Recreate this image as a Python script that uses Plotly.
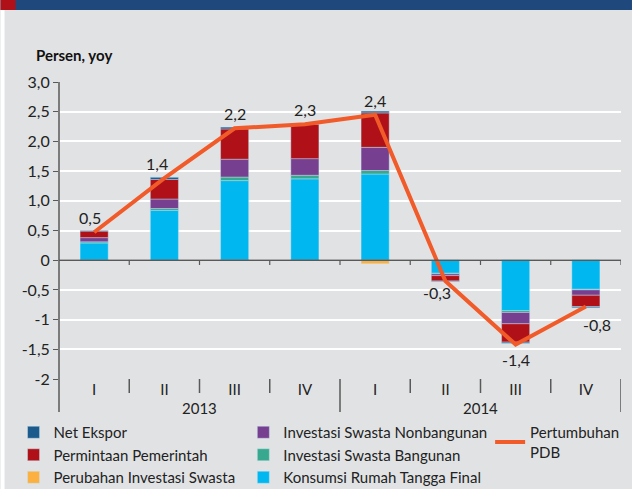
import plotly.graph_objects as go

quarters = ["I", "II", "III", "IV", "I", "II", "III", "IV"]
years = ["2013", "2014"]
konsumsi = [0.29, 0.84, 1.34, 1.37, 1.45, -0.22, -0.85, -0.49]
bangunan = [0.02, 0.03, 0.06, 0.06, 0.06, -0.01, -0.03, -0.01]
nonbangunan = [0.07, 0.16, 0.30, 0.28, 0.39, -0.03, -0.19, -0.09]
pemerintah = [0.11, 0.33, 0.51, 0.58, 0.58, -0.09, -0.31, -0.19]
net_ekspor = [0.01, 0.04, 0.03, 0.01, 0.03, -0.01, -0.02, -0.02]
perubahan = [-0.005, 0.0, -0.01, 0.0, -0.06, 0.0, 0.0, 0.0]
pdb = [0.47, 1.38, 2.22, 2.29, 2.45, -0.35, -1.42, -0.78]
pdb_labels = ["0,5", "1,4", "2,2", "2,3", "2,4", "-0,3", "-1,4", "-0,8"]
y_tickvals = [3, 2.5, 2, 1.5, 1, 0.5, 0, -0.5, -1, -1.5, -2]
y_ticktext = ["3,0", "2,5", "2,0", "1,5", "1,0", "0,5", "0", "-0,5", "-1", "-1,5", "-2"]

FONT = "Lato"
W, H = 632, 489
ML, MR, MT, MB = 58.5, 11, 82, 110
PW, PH = W - ML - MR, H - MT - MB

def px_x(px):
    return (px - ML) / PW

def px_y(py):
    return (H - MB - py) / PH

x = list(range(len(quarters)))

fig = go.Figure()

bar_specs = [
    ("Konsumsi Rumah Tangga Final", konsumsi, "#00B8EF", "legend2", "g6"),
    ("Investasi Swasta Bangunan", bangunan, "#38A88E", "legend2", "g5"),
    ("Investasi Swasta Nonbangunan", nonbangunan, "#763F8F", "legend2", "g4"),
    ("Permintaan Pemerintah", pemerintah, "#B01118", "legend", "g2"),
    ("Net Ekspor", net_ekspor, "#1C5A8C", "legend", "g1"),
    ("Perubahan Investasi Swasta", perubahan, "#FBB040", "legend", "g3"),
]
rank = {"Net Ekspor": 1, "Permintaan Pemerintah": 2, "Perubahan Investasi Swasta": 3,
        "Investasi Swasta Nonbangunan": 4, "Investasi Swasta Bangunan": 5,
        "Konsumsi Rumah Tangga Final": 6}
for name, vals, col, leg, grp in bar_specs:
    fig.add_trace(go.Bar(
        x=x, y=vals, name=name,
        marker=dict(color=col, line=dict(width=0.6, color="rgba(200,230,245,0.7)")),
        width=0.4, legend=leg, legendgroup=grp, legendrank=rank[name],
    ))

fig.add_trace(go.Scatter(
    x=x, y=pdb, name="Pertumbuhan<br>PDB", mode="lines",
    line=dict(color="#F15A29", width=4),
    legend="legend3", cliponaxis=False,
))

shapes = []
shapes.append(dict(type="rect", xref="paper", yref="paper", x0=px_x(0), x1=px_x(W), y0=px_y(10), y1=px_y(0),
                   fillcolor="#1F497D", line=dict(width=0), layer="above"))
shapes.append(dict(type="rect", xref="paper", yref="paper", x0=px_x(0), x1=px_x(15), y0=px_y(10), y1=px_y(0),
                   fillcolor="#B01118", line=dict(width=0), layer="above"))
shapes.append(dict(type="rect", xref="paper", yref="paper", x0=px_x(0), x1=px_x(4), y0=px_y(H), y1=px_y(10),
                   fillcolor="#FFFFFF", line=dict(width=0), layer="above"))
shapes.append(dict(type="line", xref="paper", yref="paper", x0=0, x1=0, y0=px_y(412), y1=1,
                   line=dict(color="#595959", width=1.5)))
shapes.append(dict(type="line", xref="paper", yref="y", x0=0, x1=1, y0=0, y1=0,
                   line=dict(color="#595959", width=1.5)))
for b in [0.5, 1.5, 2.5, 3.5, 4.5, 5.5, 6.5, 7.5]:
    shapes.append(dict(type="line", xref="x", yref="paper", x0=b, x1=b, y0=px_y(265), y1=px_y(260),
                       line=dict(color="#595959", width=1.2)))
for b in [0.5, 1.5, 2.5, 4.5, 5.5, 6.5]:
    shapes.append(dict(type="line", xref="x", yref="paper", x0=b, x1=b, y0=px_y(393), y1=0,
                       line=dict(color="#595959", width=1.5)))
for b in [3.5, 7.5]:
    shapes.append(dict(type="line", xref="x", yref="paper", x0=b, x1=b, y0=px_y(412), y1=0,
                       line=dict(color="#595959", width=1.5)))

annotations = [
    dict(text="<b>Persen, yoy</b>", xref="paper", yref="paper", x=px_x(33), y=px_y(55),
         xanchor="left", yanchor="middle", showarrow=False, font=dict(family=FONT, size=15, color="#111111")),
]
for i, yr in enumerate(years):
    annotations.append(dict(text=yr, xref="x", yref="paper", x=1.5 + 4 * i, y=px_y(408),
                            xanchor="center", yanchor="middle", showarrow=False,
                            font=dict(family=FONT, size=15, color="#222222")))
label_shift = [(-4, 15), (-7, 15), (0, 15), (0, 15), (0, 14), (-8, -12), (0, -15), (11, -18)]
for i, (lab, val) in enumerate(zip(pdb_labels, pdb)):
    dx, dy = label_shift[i]
    annotations.append(dict(text=lab, x=x[i], y=val, xref="x", yref="y", showarrow=False,
                            xshift=dx, yshift=dy, xanchor="center", yanchor="middle",
                            font=dict(family=FONT, size=16, color="#222222")))

legend_common = dict(bgcolor="rgba(0,0,0,0)", font=dict(family=FONT, size=15, color="#222222"),
                     orientation="v", xanchor="left", yanchor="top", tracegroupgap=0,
                     itemclick=False, itemwidth=30)

fig.update_layout(
    width=W, height=H,
    margin=dict(l=ML, r=MR, t=MT, b=MB, autoexpand=False),
    paper_bgcolor="#E1E2E4", plot_bgcolor="#E1E2E4",
    barmode="relative",
    showlegend=True,
    font=dict(family=FONT, size=15, color="#222222"),
    xaxis=dict(range=[-0.5, 7.5], tickvals=x, ticktext=quarters, showgrid=False, zeroline=False,
               showline=False, ticks="", tickfont=dict(family=FONT, size=15, color="#222222")),
    yaxis=dict(range=[-2, 3], tickvals=y_tickvals, ticktext=y_ticktext, showgrid=True,
               gridcolor="#FFFFFF", gridwidth=1.5, zeroline=False, showline=False,
               ticks="outside", ticklen=5, tickcolor="#595959", tickwidth=1.2,
               tickfont=dict(family=FONT, size=16, color="#222222")),
    shapes=shapes,
    annotations=annotations,
    legend=dict(x=px_x(13), y=px_y(416), **legend_common),
    legend2=dict(x=px_x(243), y=px_y(416), **legend_common),
    legend3=dict(x=px_x(490), y=px_y(416), **legend_common),
)

fig.write_html("out.html", config={"displayModeBar": False},
               post_script="document.body.style.margin='0px';document.body.style.overflow='hidden';")
